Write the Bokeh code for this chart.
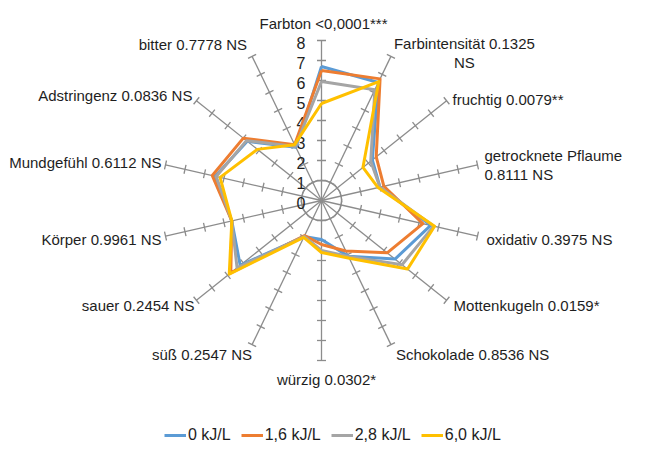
import numpy as np
from bokeh.plotting import figure
from bokeh.models import ColumnDataSource, Range1d, Legend, LegendItem
from bokeh.embed import file_html
from bokeh.resources import INLINE
from bokeh.core.properties import value

# ---------------- data ----------------
categories = [
    "Farbton <0,0001***",
    "Farbintensität 0.1325\nNS",
    "fruchtig 0.0079**",
    "getrocknete Pflaume\n0.8111 NS",
    "oxidativ 0.3975 NS",
    "Mottenkugeln 0.0159*",
    "Schokolade 0.8536 NS",
    "würzig 0.0302*",
    "süß 0.2547 NS",
    "sauer 0.2454 NS",
    "Körper 0.9961 NS",
    "Mundgefühl 0.6112 NS",
    "Adstringenz 0.0836 NS",
    "bitter 0.7778 NS",
]
series_names = ["0 kJ/L", "1,6 kJ/L", "2,8 kJ/L", "6,0 kJ/L"]
s_0_0 = [6.7, 6.55, 3.25, 3.0, 5.6, 4.7, 3.1, 1.95, 2.0, 5.2, 4.6, 5.45, 4.75, 2.95]
s_1_6 = [6.5, 6.75, 3.5, 3.2, 5.2, 4.2, 2.8, 2.2, 1.95, 5.8, 4.6, 5.6, 5.0, 3.1]
s_2_8 = [5.95, 6.15, 3.15, 3.0, 5.75, 5.15, 3.1, 2.5, 2.0, 5.4, 4.6, 5.4, 4.8, 3.0]
s_6_0 = [4.85, 6.6, 2.65, 2.9, 5.8, 5.5, 3.2, 2.6, 2.05, 5.9, 4.6, 5.2, 4.1, 3.1]
tick_values = [0, 1, 2, 3, 4, 5, 6, 7, 8]
r_max = 8

# ---------------- styles ----------------
colors = ["#5B9BD5", "#ED7D31", "#A5A5A5", "#FFC000"]
axis_color = "#8C8C8C"
text_color = "#1E1E1E"
FONT = "Liberation Sans"
LABEL_SIZE = "15px"
PX = 20.0  # pixels per unit
W, H = 631, 455
cx_px, cy_px = 321, 200  # centre of radar in figure pixels (from top-left)

# label placement styles: anchor, justification, pixel offsets
label_style = [
    ("bottom_center", "center", 2, -9),
    ("center_left", "center", 3, -3),
    ("center_left", "left", 6, -1),
    ("center_left", "left", 7, 0),
    ("center_left", "left", 9, 3),
    ("center_left", "left", 7, 5),
    ("top_left", "left", 5, 1),
    ("top_center", "center", 5, 10),
    ("top_right", "right", 0, 1),
    ("center_right", "right", -2, 5),
    ("center_right", "right", -4, 3),
    ("center_right", "right", -4, -2),
    ("center_right", "right", -4, -5),
    ("bottom_right", "right", -5, -3),
]

n = len(categories)
ang = np.arange(n) * 2 * np.pi / n
sx, sy = np.sin(ang), np.cos(ang)

p = figure(
    width=W, height=H,
    x_range=Range1d(-cx_px / PX, (W - cx_px) / PX),
    y_range=Range1d(-(H - cy_px) / PX, cy_px / PX),
    min_border=0, toolbar_location=None, output_backend="svg",
)
p.axis.visible = False
p.grid.visible = False
p.outline_line_color = None
p.background_fill_color = "white"
p.border_fill_color = "white"

# radial axes
p.segment(x0=np.zeros(n), y0=np.zeros(n), x1=r_max * sx, y1=r_max * sy,
          line_color=axis_color, line_width=1.3)
# tick marks
half = 4.5 / PX
tx0, ty0, tx1, ty1 = [], [], [], []
for i in range(n):
    for k in tick_values[1:]:
        bx, by = k * sx[i], k * sy[i]
        tx0.append(bx - half * sy[i]); ty0.append(by + half * sx[i])
        tx1.append(bx + half * sy[i]); ty1.append(by - half * sx[i])
p.segment(x0=tx0, y0=ty0, x1=tx1, y1=ty1, line_color=axis_color, line_width=1.3)
# inner ring
p.circle(x=[0], y=[0], radius=tick_values[1], fill_color=None,
         line_color=axis_color, line_width=1.3)

# tick labels
p.text(x=[0] * len(tick_values), y=tick_values, text=[str(t) for t in tick_values],
       x_offset=-16, y_offset=2, text_align="right", text_baseline="middle",
       text_font=value(FONT), text_font_size="16px", text_color=text_color)

# series
renderers = []
for vals, col in zip([s_0_0, s_1_6, s_2_8, s_6_0], colors):
    v = np.array(vals + vals[:1])
    a = np.append(ang, ang[0])
    r = p.line(v * np.sin(a), v * np.cos(a), line_color=col, line_width=3,
               line_join="round")
    renderers.append(r)

# category labels
lsrc = ColumnDataSource(dict(
    x=r_max * sx, y=r_max * sy, text=categories,
    anchor=[s[0] for s in label_style], align=[s[1] for s in label_style],
    xo=[s[2] for s in label_style], yo=[s[3] for s in label_style],
))
p.text(x="x", y="y", text="text", source=lsrc, anchor="anchor", text_align="align",
       x_offset="xo", y_offset="yo", text_font=value(FONT), text_font_size=LABEL_SIZE,
       text_line_height=1.1, text_color=text_color)

legend = Legend(
    items=[LegendItem(label=nm, renderers=[r]) for nm, r in zip(series_names, renderers)],
    orientation="horizontal", location=(164, 11),
    glyph_width=22, glyph_height=16, label_standoff=2, spacing=10,
    padding=0, margin=0, border_line_color=None, background_fill_alpha=0,
    label_text_font=FONT, label_text_font_size="16px", label_text_color=text_color,
)
p.add_layout(legend)

open("out.html", "w").write(file_html(p, INLINE))
